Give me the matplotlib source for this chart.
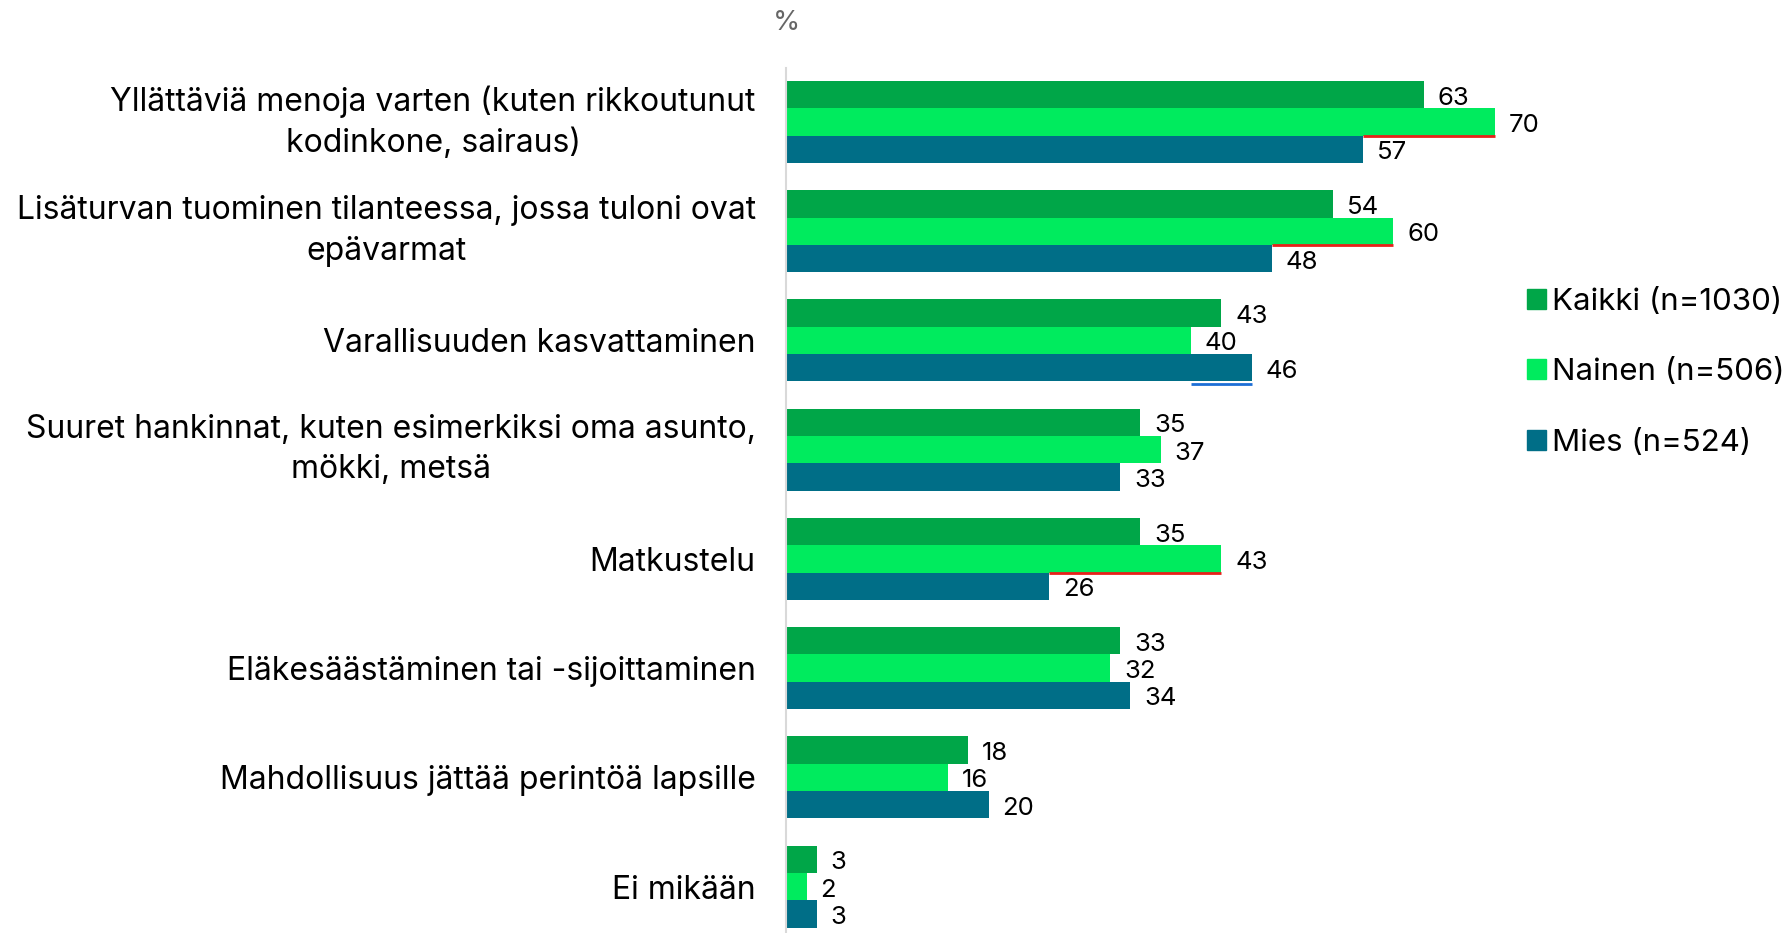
import matplotlib.pyplot as plt
import matplotlib.transforms as mtransforms
from matplotlib.patches import Patch
import numpy as np

plt.rcParams['font.family'] = ['Inter', 'DejaVu Sans']

# Data extracted
categories = [
    'Yllättäviä menoja varten (kuten rikkoutunut\nkodinkone, sairaus)',
    'Lisäturvan tuominen tilanteessa, jossa tuloni ovat\nepävarmat',
    'Varallisuuden kasvattaminen',
    'Suuret hankinnat, kuten esimerkiksi oma asunto,\nmökki, metsä',
    'Matkustelu',
    'Eläkesäästäminen tai -sijoittaminen',
    'Mahdollisuus jättää perintöä lapsille',
    'Ei mikään',
]
series = ['Kaikki (n=1030)', 'Nainen (n=506)', 'Mies (n=524)']
kaikki = [63, 54, 43, 35, 35, 33, 18, 3]
nainen = [70, 60, 40, 37, 43, 32, 16, 2]
mies = [57, 48, 46, 33, 26, 34, 20, 3]

# significant differences: (category index, bar index the line sits under, from, to)
sig_red = [(0, 1, 57, 70), (1, 1, 48, 60), (4, 1, 26, 43)]
sig_blue = [(2, 2, 40, 46)]

colors = ['#00a648', '#00eb5e', '#006e87']

fig = plt.figure(figsize=(17.89, 9.33), dpi=100)
ax = fig.add_axes([0.4395, 0.0, 0.42, 0.9266])

y = np.arange(len(categories))
h = 0.25
values = [kaikki, nainen, mies]
for i, (vals, col) in enumerate(zip(values, colors)):
    pos = y + (i - 1) * h
    bars = ax.barh(pos, vals, h, color=col, label=series[i])
    for b, v in zip(bars, vals):
        ax.annotate(f'{v}', xy=(v, b.get_y() + h / 2), xytext=(10, -2.5),
                    textcoords='offset points', ha='left', va='center',
                    fontsize=18.5, color='black', annotation_clip=False)

for idx, bi, x0, x1 in sig_red:
    yy = idx + (bi - 1) * h + h / 2
    ax.plot([x0, x1], [yy, yy], color='#e8201a', lw=2, solid_capstyle='butt', clip_on=False)
for idx, bi, x0, x1 in sig_blue:
    yy = idx + (bi - 1) * h + h / 2 + 0.02
    ax.plot([x0, x1], [yy, yy], color='#1d6fd6', lw=2, solid_capstyle='butt', clip_on=False)

ax.set_xlim(0, 74.25)
ax.set_ylim(7.425, -0.49)
ax.set_yticks(y)
ax.set_yticklabels(categories, fontsize=23, multialignment='center', linespacing=1.4)
ax.tick_params(axis='y', length=0, pad=22)
ax.set_xticks([])
# two-line labels sit a little higher in the original
for lbl in ax.get_yticklabels():
    if '\n' in lbl.get_text():
        lbl.set_transform(lbl.get_transform() +
                          mtransforms.ScaledTranslation(0, 6 / 72, fig.dpi_scale_trans))
for s in ['top', 'right', 'bottom']:
    ax.spines[s].set_visible(False)
ax.spines['left'].set_color('#d9d9d9')
ax.spines['left'].set_linewidth(1.5)

fig.text(0.4395, 0.975, '%', fontsize=20, color='#666666', ha='center', va='center')

handles = [Patch(color=c) for c in colors]
fig.legend(handles, series, loc='center left', bbox_to_anchor=(0.8535, 0.601),
           frameon=False, fontsize=22.5, handlelength=0.6, handleheight=0.6,
           handletextpad=0.2, labelspacing=1.36, borderpad=0, borderaxespad=0)

plt.savefig('out.png', dpi=100)
